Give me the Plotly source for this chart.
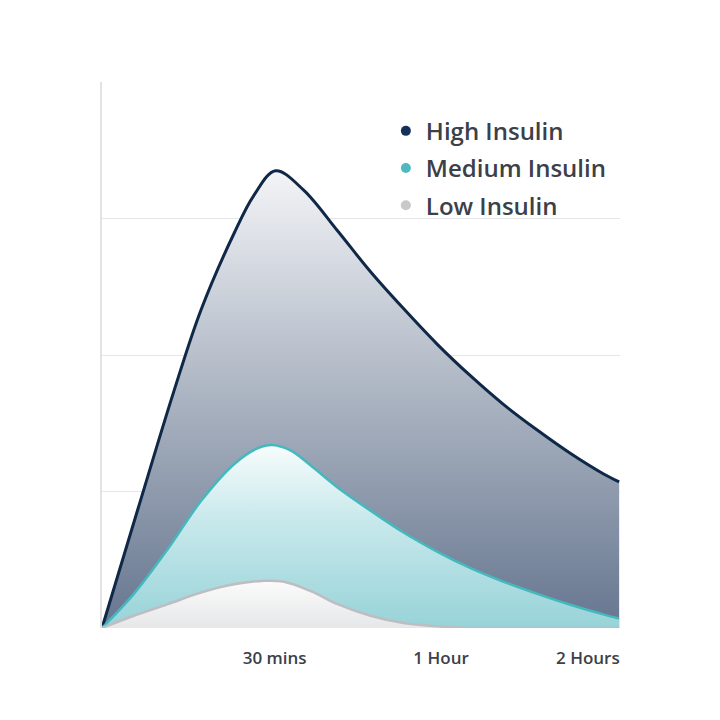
import plotly.graph_objects as go

# x positions on an abstract time scale (~minutes up to 1 hour, compressed after)
high_x = [0, 6.3, 12.6, 17.4, 23.2, 26.7, 30.5, 35.4, 41.4, 47.2, 53.0, 58.9, 64.7, 70.5, 76.5, 82.3, 88.1, 90.9]
high_y = [0, 0.87, 1.73, 2.33, 2.89, 3.17, 3.35, 3.21, 2.91, 2.61, 2.34, 2.08, 1.85, 1.64, 1.45, 1.28, 1.13, 1.07]

med_x = [0, 5.6, 11.6, 17.4, 23.2, 27.0, 29.8, 33.2, 36.7, 41.4, 47.2, 53.0, 58.9, 64.7, 70.5, 76.5, 82.3, 88.1, 90.9]
med_y = [0, 0.25, 0.58, 0.93, 1.20, 1.31, 1.34, 1.30, 1.19, 1.03, 0.86, 0.70, 0.56, 0.44, 0.34, 0.25, 0.17, 0.10, 0.07]

low_x = [0, 5.6, 11.6, 17.4, 23.2, 28.2, 31.8, 36.7, 41.4, 47.2, 53.0, 58.9, 64.7, 70.5, 90.9]
low_y = [0, 0.09, 0.175, 0.26, 0.32, 0.345, 0.34, 0.27, 0.175, 0.09, 0.036, 0.012, 0, 0, 0]

tick_vals = [30.35, 59.6, 85.4]
tick_text = ["30 mins", "1 Hour", "2 Hours"]

series_names = ["High Insulin", "Medium Insulin", "Low Insulin"]
dot_colors = ["#15305a", "#4fb9bf", "#c9c9cb"]

FONT = "Open Sans"

fig = go.Figure()

fig.add_trace(go.Scatter(
    x=high_x, y=high_y, mode="lines", fill="tozeroy",
    line=dict(color="#0f2847", width=3, shape="spline", smoothing=1.0),
    fillgradient=dict(type="vertical",
                      colorscale=[[0, "#66768f"], [0.5, "#aab3c1"], [1, "#f3f4f7"]]),
    showlegend=False, hoverinfo="skip"))

fig.add_trace(go.Scatter(
    x=med_x, y=med_y, mode="lines", fill="tozeroy",
    line=dict(color="#45b8be", width=2.5, shape="spline", smoothing=1.0),
    fillgradient=dict(type="vertical",
                      colorscale=[[0, "#97d3d8"], [0.6, "#c9e9ec"], [1, "#f7fcfc"]]),
    showlegend=False, hoverinfo="skip"))

fig.add_trace(go.Scatter(
    x=low_x, y=low_y, mode="lines", fill="tozeroy",
    line=dict(color="#bdbdc2", width=2.5, shape="spline", smoothing=1.0),
    fillgradient=dict(type="vertical",
                      colorscale=[[0, "#e6e7e9"], [1, "#fbfbfb"]]),
    showlegend=False, hoverinfo="skip"))

for name, col in zip(series_names, dot_colors):
    fig.add_trace(go.Scatter(
        x=[None], y=[None], mode="markers", name=name, legendgroup=name,
        marker=dict(color=col, size=10)))

fig.update_layout(
    width=720, height=720,
    margin=dict(l=94, r=108, t=74, b=100),
    paper_bgcolor="#ffffff", plot_bgcolor="#ffffff",
    font=dict(family=FONT, color="#3b4049"),
    legend=dict(x=0.548, y=0.951, xanchor="left", yanchor="top",
                bgcolor="rgba(0,0,0,0)",
                font=dict(family=FONT, size=24, color="#3b4049", weight=600),
                itemwidth=30, tracegroupgap=3),
    xaxis=dict(range=[0, 91.05], showgrid=False, zeroline=False,
               tickvals=tick_vals, ticktext=tick_text,
               ticks="outside", ticklen=15, tickcolor="rgba(0,0,0,0)",
               tickfont=dict(family=FONT, size=17, color="#3b4049", weight=600),
               showline=False, fixedrange=True),
    yaxis=dict(range=[0, 4], dtick=1, showticklabels=False, zeroline=False,
               showgrid=True, gridcolor="rgba(160,165,175,0.28)", gridwidth=1.2,
               showline=True, linecolor="#e3e3e3", linewidth=1.5,
               layer="above traces", fixedrange=True),
)

fig.write_html("out.html")
